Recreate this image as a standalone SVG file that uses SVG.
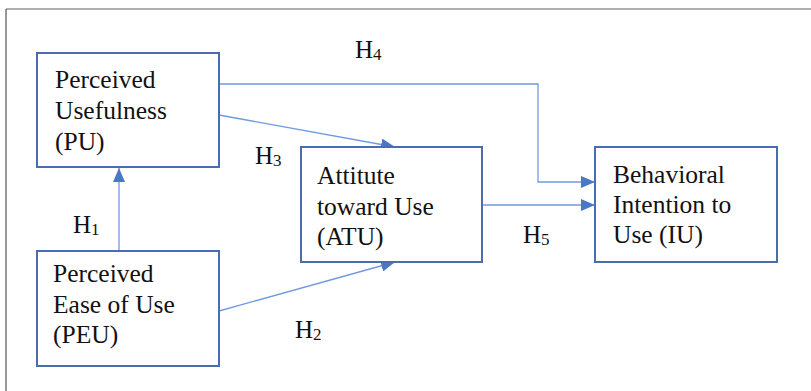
<svg xmlns="http://www.w3.org/2000/svg" width="811" height="391" viewBox="0 0 811 391">
  <defs>
    <marker id="arrow" viewBox="0 0 14 12" refX="14" refY="6" markerWidth="14" markerHeight="12" markerUnits="userSpaceOnUse" orient="auto">
      <path d="M0,0 L14,6 L0,12 Z" fill="#4a78c8"/>
    </marker>
    <style>
      .box { fill: #ffffff; stroke: #4a6db0; stroke-width: 2; }
      .conn { fill: none; stroke: #6f9ae0; stroke-width: 1.3; }
    </style>
  </defs>
  <rect x="0" y="0" width="811" height="391" fill="#ffffff"/>
  <!-- page frame -->
  <line x1="6" y1="9" x2="811" y2="9" stroke="#b0b0b0" stroke-width="2"/>
  <line x1="6" y1="9" x2="6" y2="391" stroke="#333333" stroke-width="1"/>

  <g id="connectors">
    <!-- H1: PEU -> PU -->
    <line class="conn" x1="119" y1="251" x2="119" y2="168" marker-end="url(#arrow)"/>
    <!-- H3: PU -> ATU -->
    <line class="conn" x1="219" y1="115" x2="395" y2="147" marker-end="url(#arrow)"/>
    <!-- H2: PEU -> ATU -->
    <line class="conn" x1="219" y1="311" x2="395" y2="262" marker-end="url(#arrow)"/>
    <!-- H4: PU -> IU -->
    <polyline class="conn" points="219,84 538,84 538,182 595,182" marker-end="url(#arrow)"/>
    <!-- H5: ATU -> IU -->
    <line class="conn" x1="482" y1="205" x2="595" y2="205" marker-end="url(#arrow)"/>
  </g>

  <g id="node-pu">
    <rect class="box" x="37" y="53" width="182" height="114"/>
    <text x="55" y="88" font-family="Liberation Serif" font-size="25.5" fill="#111">Perceived</text>
    <text x="55" y="119" font-family="Liberation Serif" font-size="25.5" fill="#111">Usefulness</text>
    <text x="55" y="150" font-family="Liberation Serif" font-size="25.5" fill="#111">(PU)</text>
  </g>

  <g id="node-peu">
    <rect class="box" x="37" y="251" width="182" height="115"/>
    <text x="53" y="282" font-family="Liberation Serif" font-size="25.5" fill="#111">Perceived</text>
    <text x="53" y="313" font-family="Liberation Serif" font-size="25.5" fill="#111">Ease of Use</text>
    <text x="53" y="343" font-family="Liberation Serif" font-size="25.5" fill="#111">(PEU)</text>
  </g>

  <g id="node-atu">
    <rect class="box" x="301" y="147" width="181" height="115"/>
    <text x="317" y="184" font-family="Liberation Serif" font-size="25.5" fill="#111">Attitute</text>
    <text x="317" y="215" font-family="Liberation Serif" font-size="25.5" fill="#111">toward Use</text>
    <text x="317" y="245" font-family="Liberation Serif" font-size="25.5" fill="#111">(ATU)</text>
  </g>

  <g id="node-iu">
    <rect class="box" x="595" y="147" width="182" height="115"/>
    <text x="613" y="183" font-family="Liberation Serif" font-size="25.5" fill="#111">Behavioral</text>
    <text x="613" y="213" font-family="Liberation Serif" font-size="25.5" fill="#111">Intention to</text>
    <text x="613" y="243" font-family="Liberation Serif" font-size="25.5" fill="#111">Use (IU)</text>
  </g>

  <g id="labels">
    <text x="73" y="233" font-family="Liberation Serif" font-size="25" fill="#111">H<tspan font-size="17" dy="2">1</tspan></text>
    <text x="295" y="338" font-family="Liberation Serif" font-size="25" fill="#111">H<tspan font-size="17" dy="2">2</tspan></text>
    <text x="255" y="164" font-family="Liberation Serif" font-size="25" fill="#111">H<tspan font-size="17" dy="2">3</tspan></text>
    <text x="355" y="58" font-family="Liberation Serif" font-size="25" fill="#111">H<tspan font-size="17" dy="2">4</tspan></text>
    <text x="523" y="243" font-family="Liberation Serif" font-size="25" fill="#111">H<tspan font-size="17" dy="2">5</tspan></text>
  </g>
</svg>
